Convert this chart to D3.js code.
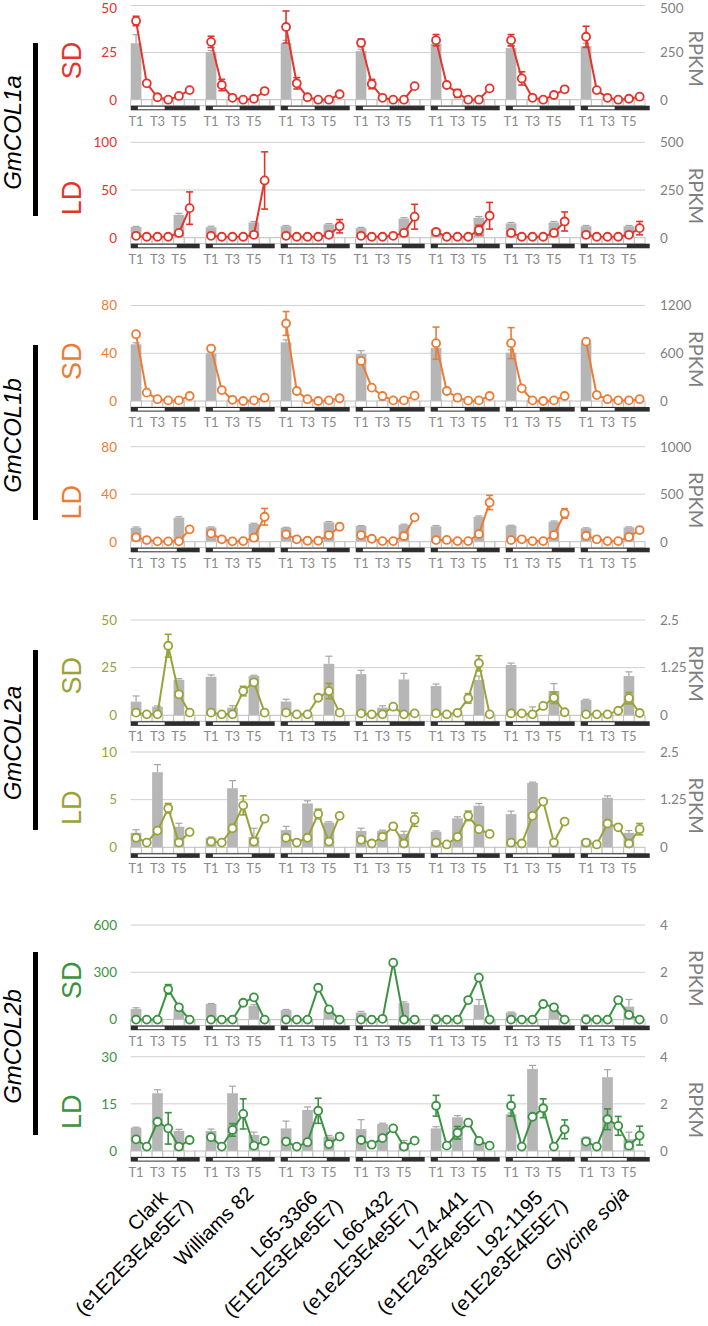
<!DOCTYPE html>
<html><head><meta charset="utf-8">
<script src="https://cdn.jsdelivr.net/npm/d3@7"></script>
<style>body{margin:0;background:#fff}svg{display:block}</style>
</head><body><svg id="c" width="708" height="1326"></svg>
<script>
// ---------- categories / labels ----------
const genotypes = ["Clark","Williams 82","L65-3366","L66-432","L74-441","L92-1195","Glycine soja"];
const alleles   = ["(e1E2E3E4e5E7)","","(E1E2E3E4e5E7)","(e1e2E3E4e5E7)","(e1E2e3E4e5E7)","(e1E2e3E4E5E7)",""];
const timePoints = ["T1","T2","T3","T4","T5","T6"];
const timeTickLabels = ["T1","T3","T5"];
const genes = ["GmCOL1a","GmCOL1b","GmCOL2a","GmCOL2b"];
const geneColors = ["#e4342b","#ec7b35","#9aa23a","#3b9242"];
const conditions = ["SD","LD"];

// ---------- tick labels ----------
const leftTicks = [[0,25,50],[0,50,100],[0,40,80],[0,40,80],[0,25,50],[0,5,10],[0,300,600],[0,15,30]];
const rightTicks = [[0,250,500],[0,250,500],[0,600,1200],[0,500,1000],[0,1.25,2.5],[0,1.25,2.5],[0,2,4],[0,2,4]];

// ---------- GmCOL1a SD ----------
const col1aSD_line = [[41.8,8.7,1.3,0,2,5.1],[30.7,7.8,1,0,0.5,4.6],[38.6,8.7,1.3,0,0,2.9],[30.2,8.3,1,0,0,7.2],[31.6,7.8,3.4,0,0,6],[31.6,11.3,1,0,2.5,5.5],[33.4,5.1,1,0,0.5,1.6]];
const col1aSD_lineErr = [[2.5,0.5,0.3,0.2,0.5,0.6],[3,3,0.3,0.2,0.3,0.5],[8.5,3,0.3,0.2,0.2,0.5],[2,2.5,0.3,0.2,0.2,0.6],[3,1,2,0.2,0.2,0.6],[3,3.5,0.3,0.2,1.5,0.6],[5.6,0.8,0.3,0.2,0.3,0.4]];
const col1aSD_bar = [[300,2,1],[253,2,1],[300,3,1],[258,2,1],[297,2,1],[274,2,1],[284,2,1]];
const col1aSD_barErr = [[45,1,1],[8,1,1],[15,1,1],[10,1,1],[8,1,1],[10,1,1],[15,1,1]];
// ---------- GmCOL1a LD ----------
const col1aLD_line = [[2,1,1,1,5,31],[2,1,1,1,3,60],[2,1,1,1,3,12],[2,1,1,2,5,22],[6,1,1,1,8,23],[5,1,1,1,5,17],[3,1,1,1,3,10]];
const col1aLD_lineErr = [[0.5,0.3,0.3,0.3,1.5,17],[0.5,0.3,0.3,0.3,1,30],[0.5,0.3,0.3,0.3,1,7],[0.5,0.3,0.3,0.3,1,13],[3,0.3,0.3,0.3,5,14],[2,0.3,0.3,0.3,2,10],[1,0.3,0.3,0.3,1,7]];
const col1aLD_bar = [[56,1,120],[55,1,80],[60,1,70],[50,1,100],[45,1,105],[75,1,80],[60,1,60]];
const col1aLD_barErr = [[3,0.5,8],[5,0.5,5],[4,0.5,4],[4,0.5,5],[3,0.5,6],[5,0.5,5],[4,0.5,4]];
// ---------- GmCOL1b SD ----------
const col1bSD_line = [[56,7,1.5,0.5,0.5,4.2],[44,9.2,1,0,0.5,2.8],[65,8.4,1.5,0,0.5,2.3],[33.6,11.2,4.2,0.5,0.5,4.5],[48.5,8.4,2.8,0.3,0.5,4.2],[48.5,10.6,0.5,0,0.5,4.2],[49.8,5,1.5,0.5,0.5,1.5]];
const col1bSD_lineErr = [[1.5,0.5,0.3,0.2,0.2,0.3],[2,1,0.3,0.2,0.2,0.3],[10,1,0.3,0.2,0.2,0.3],[2,1,0.5,0.2,0.2,0.3],[13.5,1,0.5,0.2,0.2,0.3],[13,1,0.3,0.2,0.2,0.3],[1,0.5,0.3,0.2,0.2,0.3]];
const col1bSD_bar = [[713,5,3],[600,5,3],[738,5,3],[591,5,3],[670,5,3],[608,5,3],[726,5,3]];
const col1bSD_barErr = [[20,2,1],[15,2,1],[30,2,1],[42,2,1],[20,2,1],[35,2,1],[20,2,1]];
// ---------- GmCOL1b LD ----------
const col1bLD_line = [[3.7,1.4,0.3,0.3,0.3,10.4],[7,2,0.3,0.5,3.4,21],[6.2,2,0.8,0.8,5.6,12.6],[5.6,2.5,0.5,0.5,4.8,20.5],[1.4,1.5,0.5,0.5,6.5,33],[1.4,2,0.5,0.5,5.6,23.8],[5,2,0.5,0.5,4,9.8]];
const col1bLD_lineErr = [[1,0.3,0.2,0.2,0.2,1],[1,0.3,0.2,0.2,0.5,7],[1,0.3,0.2,0.2,0.5,1],[1,0.3,0.2,0.2,0.5,1],[0.5,0.3,0.2,0.2,0.5,6],[0.5,0.3,0.2,0.2,0.5,4],[1,0.3,0.2,0.2,0.5,1]];
const col1bLD_bar = [[147,3,253],[151,3,186],[147,3,204],[165,3,176],[162,3,263],[168,3,210],[141,3,151]];
const col1bLD_barErr = [[8,1,10],[5,1,8],[5,1,8],[5,1,8],[8,1,8],[5,1,8],[5,1,5]];
// ---------- GmCOL2a SD ----------
const col2aSD_line = [[1.4,0.5,0.5,36.5,11,1.4],[1.4,0.5,0.5,12.7,17.3,1.4],[1.4,0.5,0.5,9.2,12.7,1.4],[1,0.5,0.5,4.5,0.5,1],[1,0.5,1.3,8.9,27.3,0.5],[1,1,0.5,4.9,9.2,1.6],[0.5,0.5,0.5,2.4,9,1.2]];
const col2aSD_lineErr = [[0.3,0.2,0.2,6,1,0.3],[0.3,0.2,0.2,2.5,1,0.3],[0.3,0.2,0.2,1,4,0.3],[0.3,0.2,0.2,0.5,0.2,0.3],[0.3,0.2,0.3,2.5,4,0.2],[0.3,0.2,0.2,0.5,3,0.3],[0.2,0.2,0.2,1.5,3,0.3]];
const col2aSD_bar = [[0.357,0.226,0.93],[1.01,0.2,1.03],[0.36,0.02,1.35],[1.08,0.2,0.94],[0.77,0.02,0.93],[1.32,0.05,0.64],[0.4,0.01,1.03]];
const col2aSD_barErr = [[0.15,0.02,0.03],[0.05,0.05,0.02],[0.06,0,0.2],[0.1,0.05,0.16],[0.05,0,0.1],[0.05,0.17,0.19],[0.02,0,0.11]];
// ---------- GmCOL2a LD ----------
const col2aLD_line = [[1.0,0.5,1.75,4.1,0.5,1.6],[0.6,0.5,2.0,4.4,0.6,3.0],[1.0,0.5,1.0,3.5,0.6,3.3],[0.8,0.4,1.1,2.2,0.4,2.9],[0.5,0.3,1.1,3.3,1.9,1.4],[0.5,0.4,3.3,4.8,0.5,2.7],[0.5,0.3,2.5,2.1,0.4,1.9]];
const col2aLD_lineErr = [[0.3,0.1,0.3,0.5,0.2,0.3],[0.1,0.1,0.3,1,0.2,0.3],[0.3,0.1,0.2,0.5,0.2,0.2],[0.2,0.1,0.2,0.2,0.1,0.7],[0.1,0.1,0.2,0.5,0.2,0.2],[0.1,0.1,0.2,0.2,0.1,0.2],[0.1,0.1,0.3,0.3,0.1,0.6]];
const col2aLD_bar = [[0.38,1.97,0.54],[0.25,1.55,0.27],[0.45,1.15,0.65],[0.43,0.43,0.35],[0.41,0.76,1.09],[0.87,1.69,0.02],[0.2,1.3,0.38]];
const col2aLD_barErr = [[0.08,0.2,0.09],[0.02,0.2,0.23],[0.1,0.07,0.02],[0.07,0.02,0.07],[0.02,0.04,0.06],[0.08,0.02,0],[0.02,0.05,0.06]];
// ---------- GmCOL2b SD ----------
const col2bSD_line = [[0,0,0,192,78,0],[0,0,0,107,141,0],[0,0,0,202,65,0],[0,0,5,361,0,0],[0,0,0,124,266,0],[0,0,0,99,78,0],[0,0,0,124,30,0]];
const col2bSD_lineErr = [[2,2,2,30,15,2],[2,2,2,8,20,2],[2,2,2,8,5,2],[2,2,2,5,2,2],[2,2,2,5,8,2],[2,2,2,5,5,2],[2,2,2,5,5,2]];
const col2bSD_bar = [[0.45,0.05,0.42],[0.66,0.1,0.58],[0.4,0.02,0.4],[0.3,0.02,0.7],[0.05,0.02,0.62],[0.3,0.02,0.4],[0.1,0.02,0.55]];
const col2bSD_barErr = [[0.05,0,0.1],[0.02,0,0.05],[0.03,0,0.05],[0.05,0,0.05],[0.15,0,0.23],[0.02,0,0.05],[0.1,0,0.3]];
// ---------- GmCOL2b LD ----------
const col2bLD_line = [[3.7,1.4,9.3,7.2,1.4,3.5],[4.4,1.4,6.7,11.8,1.7,3.2],[3.0,1.4,2.8,12.8,2.2,4.6],[3.5,2,4.1,7.2,1.4,3.3],[14.4,1.7,5.8,9.0,3.2,1.7],[14.4,1.4,10.9,13.6,1.4,6.9],[3.0,1.4,10.1,8.0,1.7,4.9]];
const col2bLD_lineErr = [[0.5,0.3,0.5,5,0.3,1],[0.5,0.3,2,4.8,0.3,1],[0.5,0.3,0.3,4,0.3,1],[0.5,0.3,0.3,0.3,0.3,0.3],[3.3,0.3,2,0.3,0.3,0.3],[3.3,0.3,0.5,3,0.3,3],[0.5,0.3,3.3,3,0.3,3]];
const col2bLD_bar = [[0.99,2.45,0.85],[0.85,2.45,0.68],[0.96,1.74,0.61],[0.93,1.15,0.33],[0.96,1.43,0.4],[1.56,3.48,0.02],[0.56,3.13,0.5]];
const col2bLD_barErr = [[0.02,0.15,0.07],[0.08,0.3,0.12],[0.31,0.13,0.05],[0.4,0.03,0.12],[0.07,0.07,0.03],[0.05,0.15,0],[0.03,0.32,0.3]];

const lineData = [col1aSD_line,col1aLD_line,col1bSD_line,col1bLD_line,col2aSD_line,col2aLD_line,col2bSD_line,col2bLD_line];
const lineErrData = [col1aSD_lineErr,col1aLD_lineErr,col1bSD_lineErr,col1bLD_lineErr,col2aSD_lineErr,col2aLD_lineErr,col2bSD_lineErr,col2bLD_lineErr];
const barData = [col1aSD_bar,col1aLD_bar,col1bSD_bar,col1bLD_bar,col2aSD_bar,col2aLD_bar,col2bSD_bar,col2bLD_bar];
const barErrData = [col1aSD_barErr,col1aLD_barErr,col1bSD_barErr,col1bLD_barErr,col2aSD_barErr,col2aLD_barErr,col2bSD_barErr,col2bLD_barErr];

// ---------- layout (pixels) ----------
const panelTop  = [5.5,142.3,305.6,446.7,620,752,925,1056.7];
const panelZero = [99.7,237.7,401,541.7,715.3,847.3,1019.6,1151];
const geneBlock = [[43,216],[345,520],[650,830],[952,1135]];
const plotLeft = 130.7, plotRight = 645;
const FONT = "Lato, 'Liberation Sans', sans-serif";
const ARIAL = "'Liberation Sans', Arial, sans-serif";

const svg = d3.select("#c");
const nSlots = genotypes.length*7 - 1;
const x = d3.scaleBand().domain(d3.range(nSlots)).range([plotLeft, plotRight]).paddingInner(0).paddingOuter(0);
const bw = x.bandwidth();
const slot = (g,i) => g*7 + i;

for (let p = 0; p < 8; p++) {
  const gi = Math.floor(p/2), cond = conditions[p%2], col = geneColors[gi];
  const lt = leftTicks[p], rt = rightTicks[p];
  const yL = d3.scaleLinear().domain([0, d3.max(lt)]).range([panelZero[p], panelTop[p]]);
  const yR = d3.scaleLinear().domain([0, d3.max(rt)]).range([panelZero[p], panelTop[p]]);
  const gP = svg.append("g");

  gP.selectAll(".grid").data(lt.slice(1)).join("line")
    .attr("x1", plotLeft).attr("x2", plotRight)
    .attr("y1", d => yL(d)).attr("y2", d => yL(d))
    .attr("stroke", "#d0d0d0").attr("stroke-width", 1);

  const bars = [];
  barData[p].forEach((arr, g) => arr.forEach((v, k) => bars.push({g, k, v, e: barErrData[p][g][k]})));
  gP.selectAll(".bar").data(bars).join("rect")
    .attr("x", d => x(slot(d.g, d.k*2))).attr("width", bw)
    .attr("y", d => yR(d.v)).attr("height", d => yR(0) - yR(d.v))
    .attr("fill", "#b6b6b6");
  const be = bars.filter(d => d.e > 0);
  gP.selectAll(".be").data(be).join("line")
    .attr("x1", d => x(slot(d.g, d.k*2)) + bw/2).attr("x2", d => x(slot(d.g, d.k*2)) + bw/2)
    .attr("y1", d => yR(d.v)).attr("y2", d => yR(d.v + d.e))
    .attr("stroke", "#a6a6a6").attr("stroke-width", 1.2);
  gP.selectAll(".bc").data(be).join("line")
    .attr("x1", d => x(slot(d.g, d.k*2)) + bw/2 - 3.5).attr("x2", d => x(slot(d.g, d.k*2)) + bw/2 + 3.5)
    .attr("y1", d => yR(d.v + d.e)).attr("y2", d => yR(d.v + d.e))
    .attr("stroke", "#a6a6a6").attr("stroke-width", 1.2);

  const z = panelZero[p];
  gP.selectAll(".box").data(d3.range(nSlots)).join("rect")
    .attr("x", d => x(d)).attr("width", bw).attr("y", z).attr("height", 6)
    .attr("fill", "#fff").attr("stroke", "#bfbfbf").attr("stroke-width", 1);

  const lightEnd = cond === "SD" ? 3.17 : 4.3;
  genotypes.forEach((gn, g) => {
    const x0 = x(slot(g, 0));
    gP.append("rect").attr("x", x0).attr("y", z + 6).attr("width", 6.44*bw).attr("height", 4.6).attr("fill", "#2e2e2e");
    gP.append("rect").attr("x", x0 + 0.67*bw).attr("y", z + 7).attr("width", (lightEnd - 0.67)*bw).attr("height", 2.6).attr("fill", "#fff");
  });

  const tl = [];
  genotypes.forEach((gn, g) => timeTickLabels.forEach(t => tl.push({g, t, i: timePoints.indexOf(t)})));
  gP.selectAll(".tl").data(tl).join("text")
    .attr("x", d => x(slot(d.g, d.i)) + bw/2).attr("y", z + 26)
    .attr("text-anchor", "middle").attr("font-family", FONT).attr("font-size", 13)
    .attr("fill", "#8a8a8a").text(d => d.t);

  const axL = gP.append("g").attr("transform", "translate(123,0)")
    .call(d3.axisLeft(yL).tickValues(lt).tickSize(0).tickPadding(6).tickFormat(d => String(d)));
  axL.select(".domain").remove();
  axL.selectAll("text").attr("font-family", FONT).attr("font-size", 13.5).attr("fill", col);
  const axR = gP.append("g").attr("transform", "translate(654,0)")
    .call(d3.axisRight(yR).tickValues(rt).tickSize(0).tickPadding(6).tickFormat(d => String(d)));
  axR.select(".domain").remove();
  axR.selectAll("text").attr("font-family", FONT).attr("font-size", 13.5).attr("fill", "#7f7f7f");
  if (p === 0) {
    axL.selectAll("text").filter(d => d === d3.max(lt)).attr("dy", "0.5em");
    axR.selectAll("text").filter(d => d === d3.max(rt)).attr("dy", "0.5em");
  }

  const mid = (panelTop[p] + panelZero[p]) / 2 + 6;
  gP.append("text").attr("transform", `translate(689,${mid}) rotate(90)`)
    .attr("text-anchor", "middle").attr("font-family", FONT).attr("font-size", 20)
    .attr("fill", "#7f7f7f").text("RPKM");

  gP.append("text").attr("transform", `translate(80.5,${(panelTop[p] + panelZero[p]) / 2 + 8}) rotate(-90)`)
    .attr("text-anchor", "middle").attr("font-family", ARIAL).attr("font-size", 27)
    .attr("fill", col).text(cond);

  const line = d3.line().x(d => x(slot(d.g, d.i)) + bw/2).y(d => yL(d.v));
  const pts = [];
  lineData[p].forEach((arr, g) => {
    const seg = arr.map((v, i) => ({g, i, v, e: lineErrData[p][g][i]}));
    pts.push(...seg);
    gP.append("path").datum(seg).attr("d", line).attr("fill", "none").attr("stroke", col).attr("stroke-width", 2);
  });
  const ep = pts.filter(d => yL(d.v - d.e) - yL(d.v + d.e) > 7);
  gP.selectAll(".le").data(ep).join("line")
    .attr("x1", d => x(slot(d.g, d.i)) + bw/2).attr("x2", d => x(slot(d.g, d.i)) + bw/2)
    .attr("y1", d => yL(Math.max(0, d.v - d.e))).attr("y2", d => yL(d.v + d.e))
    .attr("stroke", col).attr("stroke-width", 1.6);
  ["lo","hi"].forEach(s => {
    gP.selectAll(".lc" + s).data(ep).join("line")
      .attr("x1", d => x(slot(d.g, d.i)) + bw/2 - 3.5).attr("x2", d => x(slot(d.g, d.i)) + bw/2 + 3.5)
      .attr("y1", d => yL(s === "lo" ? Math.max(0, d.v - d.e) : d.v + d.e))
      .attr("y2", d => yL(s === "lo" ? Math.max(0, d.v - d.e) : d.v + d.e))
      .attr("stroke", col).attr("stroke-width", 1.6);
  });
  gP.selectAll(".pt").data(pts).join("circle")
    .attr("cx", d => x(slot(d.g, d.i)) + bw/2).attr("cy", d => yL(d.v)).attr("r", 4)
    .attr("fill", "#fff").attr("stroke", col).attr("stroke-width", 1.8);
}

// gene labels with black bars
genes.forEach((gname, gi) => {
  const [b0, b1] = geneBlock[gi];
  const c = (b0 + b1) / 2;
  svg.append("rect").attr("x", 33).attr("y", b0).attr("width", 5).attr("height", b1 - b0).attr("fill", "#000");
  svg.append("text").attr("transform", `translate(21,${c + 3}) rotate(-90)`)
    .attr("text-anchor", "middle").attr("font-family", ARIAL).attr("font-style", "italic")
    .attr("font-size", 24).attr("fill", "#000").text(gname);
});

// genotype labels (rotated -45)
const cs = Math.SQRT1_2;
genotypes.forEach((gn, g) => {
  const gc = x(slot(g, 0)) + 3*bw;
  const two = alleles[g] !== "";
  const p1x = gc + (two ? 6 : 17), p1y = two ? 1199 : 1195;
  svg.append("text")
    .attr("transform", "translate(" + p1x + "," + p1y + ") rotate(-45)")
    .attr("text-anchor", "end").attr("font-family", ARIAL).attr("font-size", 20).attr("fill", "#000")
    .attr("font-style", gn === "Glycine soja" ? "italic" : "normal").text(gn);
  if (two) {
    const a = 12, lh = 23;
    const p2x = p1x + a*cs + lh*cs, p2y = p1y - a*cs + lh*cs;
    svg.append("text")
      .attr("transform", "translate(" + p2x + "," + p2y + ") rotate(-45)")
      .attr("text-anchor", "end").attr("font-family", ARIAL).attr("font-size", 20).attr("fill", "#000")
      .text(alleles[g]);
  }
});
</script></body></html>
